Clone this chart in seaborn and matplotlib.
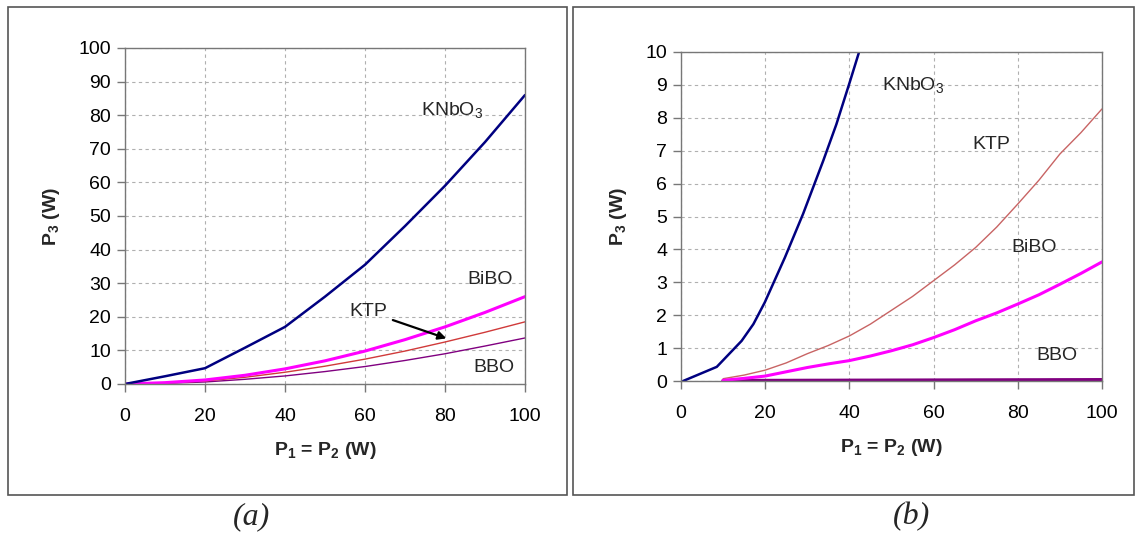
import matplotlib
matplotlib.use("Agg")
import matplotlib.pyplot as plt
import seaborn as sns
from matplotlib.patches import Rectangle

# panel (a): P1 = P2 from 0 to 100 W
xa = [0, 10, 20, 30, 40, 50, 60, 70, 80, 90, 100]
knbo3_a = [0, 2.3, 4.7, 10.8, 17, 26, 35.5, 47, 59, 72, 86]
bibo_a = [0, 0.4, 1.2, 2.6, 4.5, 6.9, 9.8, 13.2, 17, 21.3, 26]
ktp_a = [0, 0.3, 0.9, 2.0, 3.5, 5.3, 7.4, 9.8, 12.5, 15.4, 18.5]
bbo_a = [0, 0.2, 0.6, 1.4, 2.4, 3.7, 5.2, 7.0, 9.0, 11.3, 13.7]

# panel (b): zoom on 0..10 W
xb_knbo3 = [0.5, 8.5, 14.4, 17.2, 19.9, 24.7, 29, 33.8, 36.9, 40.1, 42.3, 44]
knbo3_b = [0, 0.43, 1.22, 1.73, 2.39, 3.76, 5.08, 6.7, 7.8, 9.09, 10, 10.6]
xb = [10, 15, 20, 25, 30, 35, 40, 45, 50, 55, 60, 65, 70, 75, 80, 85, 90, 95, 100]
ktp_b = [0.07, 0.18, 0.33, 0.55, 0.83, 1.08, 1.37, 1.73, 2.15, 2.57, 3.05,
         3.53, 4.06, 4.68, 5.38, 6.1, 6.9, 7.55, 8.27]
bibo_b = [0.02, 0.08, 0.15, 0.28, 0.41, 0.52, 0.62, 0.76, 0.92, 1.1, 1.32,
          1.56, 1.83, 2.07, 2.34, 2.62, 2.94, 3.27, 3.62]
bbo_b = [0.01, 0.011, 0.012, 0.013, 0.015, 0.016, 0.018, 0.019, 0.021, 0.022, 0.024,
         0.025, 0.027, 0.028, 0.03, 0.031, 0.033, 0.034, 0.036]

c_knbo3 = "#000080"
c_bibo = "#FF00FF"
c_ktp_a = "#D03A3A"
c_ktp_b = "#C86464"
c_bbo = "#800080"

sns.set_style("white")
plt.rcParams["font.family"] = ["Liberation Sans", "DejaVu Sans"]
plt.rcParams["mathtext.default"] = "regular"

fig = plt.figure(figsize=(11.36, 5.33), dpi=100)

# outer boxes around each panel
for x0, x1 in [(8, 567), (573, 1134)]:
    fig.patches.append(Rectangle((x0 / 1136, (533 - 495) / 533), (x1 - x0) / 1136, (495 - 7) / 533,
                                 transform=fig.transFigure, fill=False, edgecolor="#555555", lw=1.2))

axa = fig.add_axes([125 / 1136, (533 - 384) / 533, 400 / 1136, 336 / 533])
axb = fig.add_axes([681 / 1136, (533 - 381) / 533, 421 / 1136, 329 / 533])

sns.lineplot(x=xa, y=bbo_a, ax=axa, color=c_bbo, lw=1.0)
sns.lineplot(x=xa, y=ktp_a, ax=axa, color=c_ktp_a, lw=1.0)
sns.lineplot(x=xa, y=bibo_a, ax=axa, color=c_bibo, lw=2.2)
sns.lineplot(x=xa, y=knbo3_a, ax=axa, color=c_knbo3, lw=1.8)

sns.lineplot(x=xb, y=bbo_b, ax=axb, color=c_bbo, lw=2.6)
sns.lineplot(x=xb, y=ktp_b, ax=axb, color=c_ktp_b, lw=1.0)
sns.lineplot(x=xb, y=bibo_b, ax=axb, color=c_bibo, lw=2.2)
sns.lineplot(x=xb_knbo3, y=knbo3_b, ax=axb, color=c_knbo3, lw=1.8)

for ax, ymax, step in [(axa, 100, 10), (axb, 10, 1)]:
    ax.set_xlim(0, 100)
    ax.set_ylim(0, ymax)
    ax.set_xticks(range(0, 101, 20))
    ax.set_yticks(range(0, ymax + 1, step))
    ax.grid(True, color="#b0b0b0", ls=(0, (3, 3)), lw=0.8)
    ax.set_axisbelow(True)
    for s in ax.spines.values():
        s.set_color("#777777")
        s.set_linewidth(1.0)
    ax.tick_params(axis="both", direction="out", length=6, width=1, color="#777777",
                   labelsize=14, labelcolor="black", bottom=True, left=True, pad=4)
    ax.tick_params(axis="x", pad=11)
    ax.set_xlabel("P$_1$ = P$_2$ (W)", fontsize=14, fontweight="bold", labelpad=11)
    ax.set_ylabel("P$_3$ (W)", fontsize=14, fontweight="bold", labelpad=12)

# labels in panel (a)
axa.text(74, 81.5, "KNbO$_3$", fontsize=14, va="center")
axa.text(85.5, 31, "BiBO", fontsize=14, va="center")
axa.text(56, 21.5, "KTP", fontsize=14, va="center")
axa.text(87, 4.8, "BBO", fontsize=14, va="center")
axa.annotate("", xy=(81, 13.3), xytext=(66.3, 19.3),
             arrowprops=dict(arrowstyle="-|>", color="black", lw=1.6, mutation_scale=12))

# labels in panel (b)
axb.text(47.8, 9.0, "KNbO$_3$", fontsize=14, va="center")
axb.text(69.2, 7.2, "KTP", fontsize=14, va="center")
axb.text(78.5, 4.06, "BiBO", fontsize=14, va="center")
axb.text(84.4, 0.79, "BBO", fontsize=14, va="center")

fig.text(251 / 1136, (533 - 517) / 533, "(a)", fontsize=23, style="italic",
         family="Liberation Serif", ha="center", va="center")
fig.text(911 / 1136, (533 - 517) / 533, "(b)", fontsize=23, style="italic",
         family="Liberation Serif", ha="center", va="center")

fig.savefig("out.png", dpi=100)
